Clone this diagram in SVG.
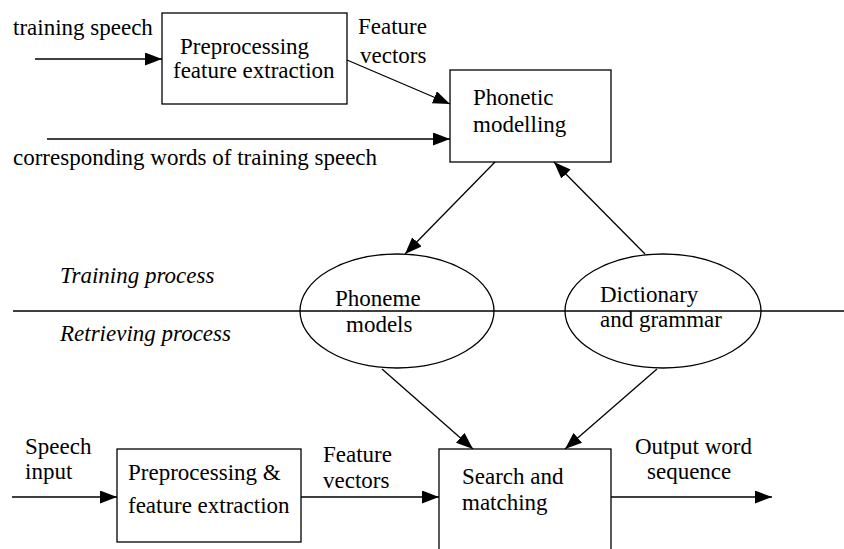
<svg xmlns="http://www.w3.org/2000/svg" width="844" height="549" viewBox="0 0 844 549">
<defs>
<marker id="ah" markerUnits="userSpaceOnUse" markerWidth="18" markerHeight="14" refX="17" refY="6.5" orient="auto">
<path d="M0,0 L17,6.5 L0,13 z" fill="#000"/>
</marker>
<style>
text{font-size:23px;fill:#000}
.it{font-style:italic}
.box{fill:#fff;stroke:#000;stroke-width:1.3}
.conn line{stroke:#000;stroke-width:1.3;marker-end:url(#ah)}
.sep{stroke:#000;stroke-width:1.3}
</style>
</defs>
<rect width="844" height="549" fill="#fff"/>
<g font-family="'Liberation Serif', 'Times New Roman', 'DejaVu Serif', serif">
<line class="sep" x1="13" y1="311" x2="844" y2="311"/>
<text class="it" x="60" y="283">Training process</text>
<text class="it" x="60" y="341">Retrieving process</text>
<text x="13" y="35">training speech</text>
<text x="13" y="165">corresponding words of training speech</text>
<text x="358" y="34">Feature</text>
<text x="360" y="63">vectors</text>
<text x="25" y="454">Speech</text>
<text x="25" y="479">input</text>
<text x="323" y="462">Feature</text>
<text x="323" y="488">vectors</text>
<text x="635" y="454">Output word</text>
<text x="647" y="479">sequence</text>
<g id="pre1">
<rect class="box" x="162" y="13" width="185" height="91"/>
<text x="180" y="54">Preprocessing</text>
<text x="173" y="78">feature extraction</text>
</g>
<g id="phonetic">
<rect class="box" x="450" y="70" width="161" height="92"/>
<text x="473" y="105">Phonetic</text>
<text x="473" y="132">modelling</text>
</g>
<g id="phoneme">
<ellipse cx="397" cy="311" rx="97" ry="57" fill="none" stroke="#000" stroke-width="1.3"/>
<text x="335" y="306">Phoneme</text>
<text x="346" y="332">models</text>
</g>
<g id="dictionary">
<ellipse cx="663" cy="311" rx="98" ry="57" fill="none" stroke="#000" stroke-width="1.3"/>
<text x="600" y="302">Dictionary</text>
<text x="600" y="327">and grammar</text>
</g>
<g id="pre2">
<rect class="box" x="117" y="449" width="184" height="93"/>
<text x="128" y="480">Preprocessing &amp;</text>
<text x="128" y="513">feature extraction</text>
</g>
<g id="search">
<rect class="box" x="439" y="449" width="172" height="112"/>
<text x="462" y="484">Search and</text>
<text x="462" y="510">matching</text>
</g>
<g class="conn" id="connectors">
<line x1="35" y1="59" x2="162" y2="59"/>
<line x1="347" y1="60" x2="450" y2="104"/>
<line x1="47" y1="139" x2="450" y2="139"/>
<line x1="495" y1="162" x2="405" y2="254"/>
<line x1="645" y1="254" x2="554" y2="162"/>
<line x1="382" y1="369" x2="473" y2="449"/>
<line x1="657" y1="369" x2="565" y2="449"/>
<line x1="12" y1="497" x2="117" y2="497"/>
<line x1="301" y1="497" x2="439" y2="497"/>
<line x1="611" y1="497" x2="772" y2="497"/>
</g>
</g>
</svg>
